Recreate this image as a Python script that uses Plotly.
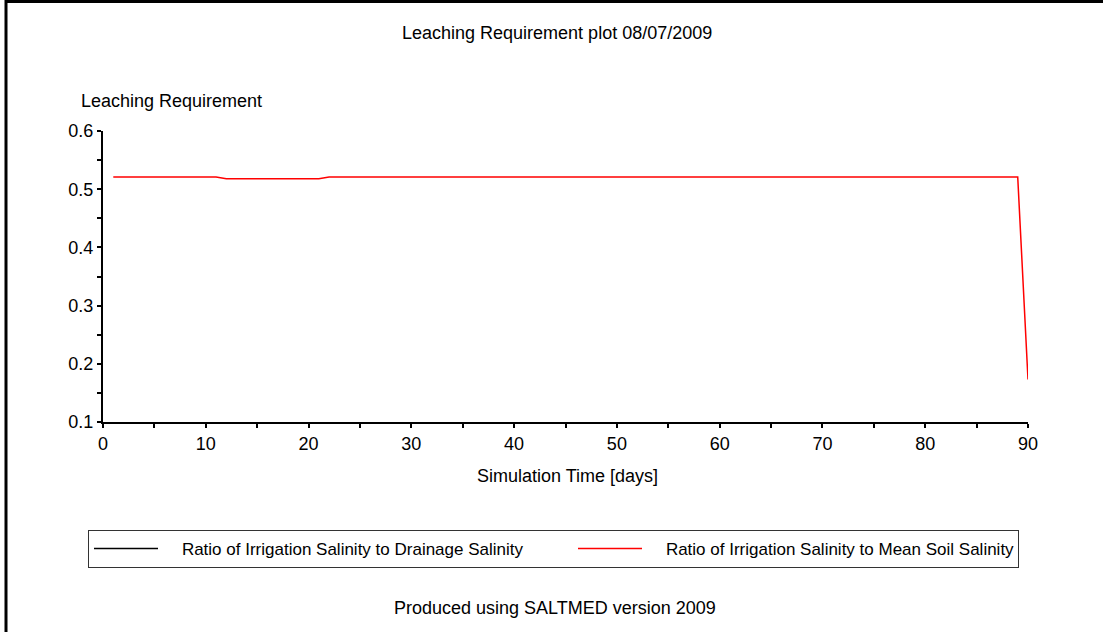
import plotly.graph_objects as go

# ---- data ----
days = list(range(1, 91))
lr_mean_soil = ([0.521] * 11) + ([0.518] * 10) + ([0.521] * 68) + [0.173]
lr_drainage_days = [None]
lr_drainage = [None]

x_ticks = [0, 10, 20, 30, 40, 50, 60, 70, 80, 90]
y_ticks = [0.1, 0.2, 0.3, 0.4, 0.5, 0.6]

FONT = "Liberation Sans, Arial, sans-serif"
FS = 18

W, H = 1103, 632
L, R, T, B = 103, 75, 131, 210
PW, PH = W - L - R, H - T - B


def px_x(x):
    return (x - L) / PW


def px_y(y):
    return (H - B - y) / PH


fig = go.Figure()
fig.add_trace(go.Scatter(
    x=lr_drainage_days, y=lr_drainage, mode="lines",
    name="\u00a0\u00a0\u00a0\u00a0Ratio of Irrigation Salinity to Drainage Salinity",
    line=dict(color="black", width=1.5), legendwidth=405,
))
fig.add_trace(go.Scatter(
    x=days, y=lr_mean_soil, mode="lines",
    name="\u00a0\u00a0\u00a0\u00a0Ratio of Irrigation Salinity to Mean Soil Salinity",
    line=dict(color="#ff0000", width=1.5), legendwidth=366,
))

axis_common = dict(
    showgrid=False, zeroline=False, showline=True, linecolor="black", linewidth=2,
    ticks="outside", ticklen=4, tickwidth=1.5, tickcolor="black",
    tickfont=dict(family=FONT, size=FS, color="black"),
)

fig.update_layout(
    width=W, height=H,
    margin=dict(l=L, r=R, t=T, b=B),
    paper_bgcolor="white", plot_bgcolor="white",
    font=dict(family=FONT, size=FS, color="black"),
    showlegend=True,
    xaxis=dict(range=[0, 90], tickvals=x_ticks,
               minor=dict(dtick=5, ticks="outside", ticklen=4, tickwidth=1.5, tickcolor="black"),
               **axis_common),
    yaxis=dict(range=[0.1, 0.6], tickvals=y_ticks, tickformat=".1f",
               minor=dict(dtick=0.05, ticks="outside", ticklen=4, tickwidth=1.5, tickcolor="black"),
               **axis_common),
    legend=dict(
        orientation="h", x=px_x(88), xanchor="left", y=px_y(549), yanchor="middle",
        bordercolor="#333333", borderwidth=1, bgcolor="white",
        font=dict(family=FONT, size=17, color="black"),
        itemwidth=64, itemclick=False,
    ),
    annotations=[
        dict(text="Leaching Requirement plot 08/07/2009", xref="paper", yref="paper",
             x=px_x(557), y=px_y(33), xanchor="center", yanchor="middle", showarrow=False,
             font=dict(family=FONT, size=FS, color="black")),
        dict(text="Leaching Requirement", xref="paper", yref="paper",
             x=px_x(79), y=px_y(101), xanchor="left", yanchor="middle", showarrow=False,
             font=dict(family=FONT, size=FS, color="black")),
        dict(text="Simulation Time [days]", xref="paper", yref="paper",
             x=px_x(567), y=px_y(476), xanchor="center", yanchor="middle", showarrow=False,
             font=dict(family=FONT, size=FS, color="black")),
        dict(text="Produced using SALTMED version 2009", xref="paper", yref="paper",
             x=px_x(555), y=px_y(608), xanchor="center", yanchor="middle", showarrow=False,
             font=dict(family=FONT, size=FS, color="black")),
    ],
    shapes=[
        dict(type="line", xref="paper", yref="paper", x0=px_x(5), x1=px_x(1103),
             y0=px_y(1.5), y1=px_y(1.5), line=dict(color="black", width=3)),
        dict(type="line", xref="paper", yref="paper", x0=px_x(6), x1=px_x(6),
             y0=px_y(0), y1=px_y(632), line=dict(color="black", width=3)),
    ],
)

fig.write_html("out.html")
